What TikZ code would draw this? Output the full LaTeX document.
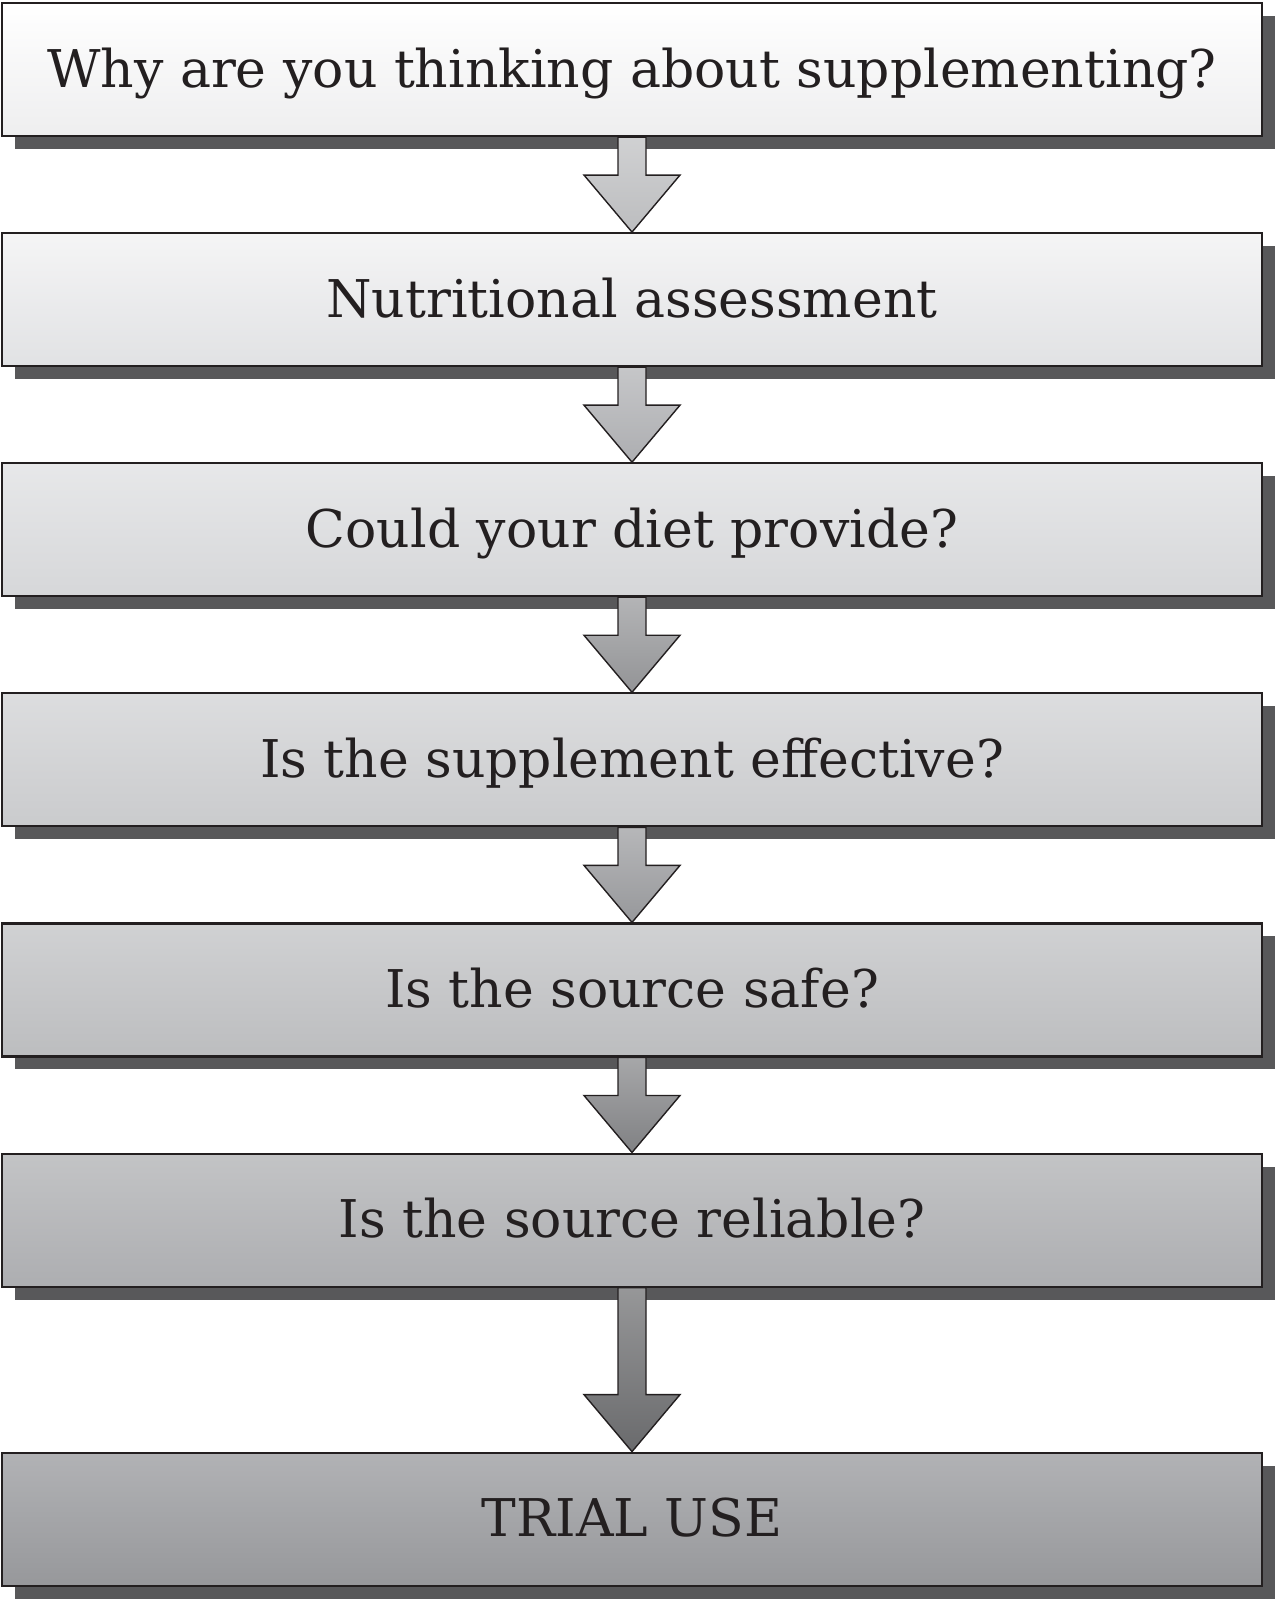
\documentclass[tikz,border=0pt]{standalone}
\usepackage{fontspec}
\newfontfamily\boxfont{DejaVu Serif}
\usepackage{tikz}
\usetikzlibrary{positioning,calc,shadows}
\usepackage{xcolor}

\definecolor{inkgray}{HTML}{231F20}
\definecolor{shadowgray}{HTML}{58585A}
\definecolor{stepA}{HTML}{EEEEEF}
\definecolor{stepB}{HTML}{E1E2E4}
\definecolor{stepC}{HTML}{D6D7D9}
\definecolor{stepD}{HTML}{CACBCD}
\definecolor{stepE}{HTML}{BCBDBF}
\definecolor{stepF}{HTML}{ADAEB1}
\definecolor{stepG}{HTML}{97989B}

% fat block arrow from the bottom of one box to the top of the next
\newcommand{\flowarrow}[3]{%
  \draw[fatarrow,top color=#3!70!white,bottom color=#3]
    ($(#1.south)+(-0.28,0)$) -- ($(#2.north)+(-0.28,1.14)$)
    -- ($(#2.north)+(-0.96,1.14)$) -- (#2.north)
    -- ($(#2.north)+(0.96,1.14)$) -- ($(#2.north)+(0.28,1.14)$)
    -- ($(#1.south)+(0.28,0)$) -- cycle;}

\begin{document}
\begin{tikzpicture}[
    node distance=1.90cm,
    stepbox/.style={rectangle,draw=inkgray,line width=1.2pt,
                minimum width=25.2cm,minimum height=2.66cm,inner sep=0pt,
                text height=20pt,text depth=0pt,
                font=\boxfont\fontsize{29.6}{34}\selectfont,text=inkgray,
                drop shadow={shadow xshift=0.26cm,shadow yshift=-0.26cm,
                             fill=shadowgray,opacity=1}},
    fatarrow/.style={draw=inkgray,line width=0.8pt,line join=miter}
  ]
    \useasboundingbox (0,0) rectangle (25.52,-32);
    \node[stepbox,top color=white,bottom color=stepA] (why) at (12.64,-1.39)
      {Why are you thinking about supplementing?};
    \node[stepbox,below=of why,top color=stepA!60!white,bottom color=stepB] (assess)
      {Nutritional assessment};
    \node[stepbox,below=of assess,top color=stepB!80!white,bottom color=stepC] (diet)
      {Could your diet provide?};
    \node[stepbox,below=of diet,top color=stepC!85!white,bottom color=stepD] (effect)
      {Is the supplement effective?};
    \node[stepbox,below=of effect,top color=stepD!88!white,bottom color=stepE] (safe)
      {Is the source safe?};
    \node[stepbox,below=of safe,top color=stepE!90!white,bottom color=stepF] (reliable)
      {Is the source reliable?};
    \node[stepbox,below=3.28cm of reliable,top color=stepF!95!white,bottom color=stepG] (trial)
      {TRIAL USE};
    \flowarrow{why}{assess}{stepE}
    \flowarrow{assess}{diet}{stepF}
    \flowarrow{diet}{effect}{stepF!85!black}
    \flowarrow{effect}{safe}{stepG}
    \flowarrow{safe}{reliable}{stepG!85!black}
    \flowarrow{reliable}{trial}{stepG!70!black}
  \end{tikzpicture}
\end{document}
